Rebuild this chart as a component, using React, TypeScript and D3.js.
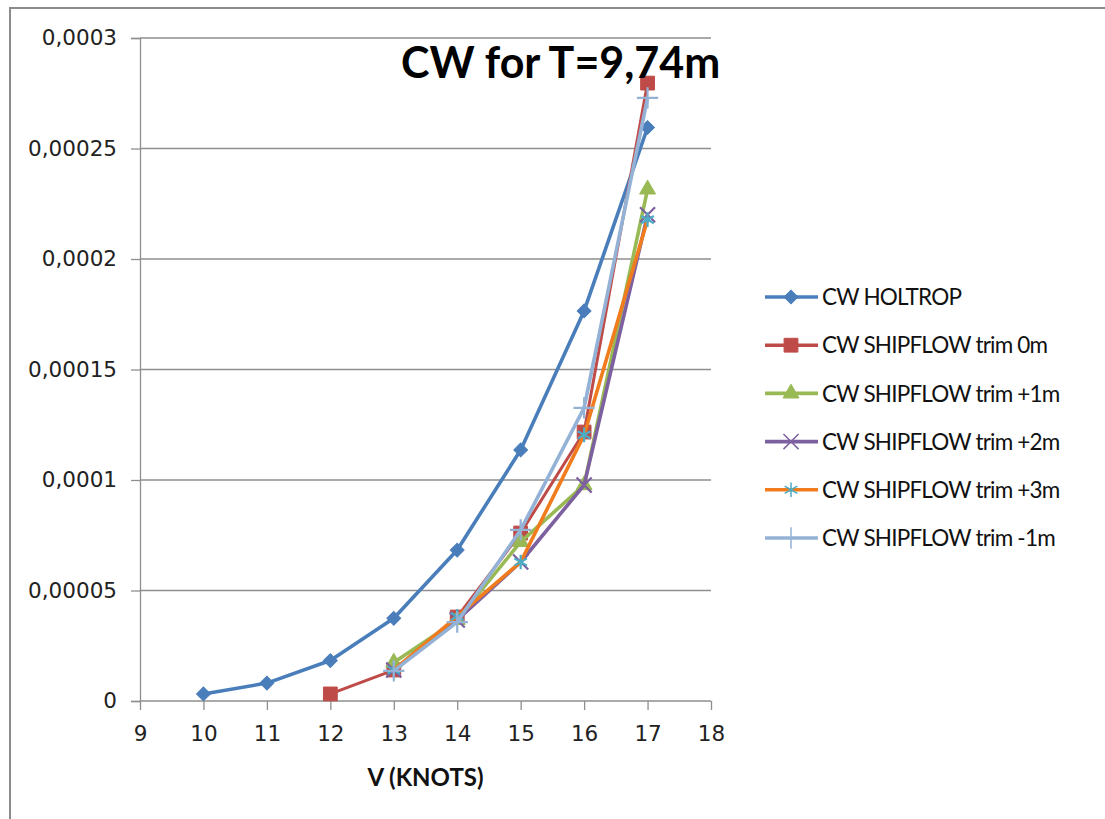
import { useEffect, useRef } from "react";
import * as d3 from "d3";

// speeds (knots) and wave resistance coefficients
const speeds = [10, 11, 12, 13, 14, 15, 16, 17];
const holtrop = [0.0000032, 0.0000081, 0.0000183, 0.0000374, 0.0000683, 0.0001136, 0.0001765, 0.0002595];
const trim0 = [null, null, 0.0000032, 0.000014, 0.000038, 0.000076, 0.0001217, 0.0002796];
const trimP1 = [null, null, null, 0.0000174, 0.0000367, 0.000072, 0.0000977, 0.0002315];
const trimP2 = [null, null, null, 0.000014, 0.0000367, 0.0000629, 0.0000977, 0.00022];
const trimP3 = [null, null, null, 0.000014, 0.0000383, 0.0000629, 0.0001204, 0.0002178];
const trimM1 = [null, null, null, 0.0000136, 0.0000357, 0.0000774, 0.0001326, 0.0002729];

const seriesNames = [
  "CW HOLTROP",
  "CW SHIPFLOW trim 0m",
  "CW SHIPFLOW trim +1m",
  "CW SHIPFLOW trim +2m",
  "CW SHIPFLOW trim +3m",
  "CW SHIPFLOW trim -1m",
];
const xTicks = [9, 10, 11, 12, 13, 14, 15, 16, 17, 18];
const yTicks = [0, 0.00005, 0.0001, 0.00015, 0.0002, 0.00025, 0.0003];
const yTickLabels = ["0", "0,00005", "0,0001", "0,00015", "0,0002", "0,00025", "0,0003"];

type Style = {
  line: string;
  marker: string;
  symbol: d3.SymbolType;
  size: number;
  filled: boolean;
  rotate?: number;
};

const styles: Style[] = [
  { line: "#4A7EBB", marker: "#4A7EBB", symbol: d3.symbolSquare, size: 95, filled: true, rotate: 45 },
  { line: "#BE4B48", marker: "#BE4B48", symbol: d3.symbolSquare, size: 190, filled: true },
  { line: "#98B954", marker: "#98B954", symbol: d3.symbolTriangle, size: 110, filled: true },
  { line: "#7D60A0", marker: "#7D60A0", symbol: d3.symbolTimes, size: 150, filled: false },
  { line: "#F07C1E", marker: "#4BACC6", symbol: d3.symbolAsterisk, size: 150, filled: false },
  { line: "#94B2D6", marker: "#94B2D6", symbol: d3.symbolPlus, size: 150, filled: false },
];

const allSeries = [holtrop, trim0, trimP1, trimP2, trimP3, trimM1];

export default function App() {
  const ref = useRef<SVGSVGElement>(null);

  useEffect(() => {
    if (!ref.current) return;
    const svg = d3.select(ref.current);
    svg.selectAll("*").remove();

    const left = 140, right = 711, top = 38, bottom = 701;
    const x = d3.scaleLinear().domain([9, 18]).range([left, right]);
    const y = d3.scaleLinear().domain([0, 0.0003]).range([bottom, top]);

    // outer chart frame (only top and left edges visible)
    svg.append("rect")
      .attr("x", 10).attr("y", 8).attr("width", 1200).attr("height", 900)
      .attr("fill", "none").attr("stroke", "#8c8c8c").attr("stroke-width", 2);

    // gridlines
    svg.append("g").selectAll("line")
      .data(yTicks.slice(1))
      .enter().append("line")
      .attr("x1", left).attr("x2", right)
      .attr("y1", d => y(d)).attr("y2", d => y(d))
      .attr("stroke", "#8e8e8e").attr("stroke-width", 1.3);

    // axes
    const yAxis = svg.append("g").attr("transform", `translate(${left},0)`)
      .call(d3.axisLeft(y).tickValues(yTicks).tickSize(9)
        .tickFormat((_, i) => yTickLabels[i]).tickPadding(14));
    const xAxis = svg.append("g").attr("transform", `translate(0,${bottom})`)
      .call(d3.axisBottom(x).tickValues(xTicks).tickSize(9).tickFormat(d3.format("d")).tickPadding(16));
    [yAxis, xAxis].forEach(a => {
      a.selectAll("path").attr("stroke", "#8e8e8e").attr("stroke-width", 1.3);
      a.selectAll("line").attr("stroke", "#8e8e8e").attr("stroke-width", 1.3);
      a.selectAll("text")
        .attr("font-family", "DejaVu Sans")
        .attr("font-size", 21.5)
        .attr("fill", "#222");
    });
    xAxis.select(".domain").attr("d", `M${left},0H${right}`);

    // series
    const line = d3.line<[number, number | null]>()
      .defined(d => d[1] !== null)
      .x(d => x(d[0]))
      .y(d => y(d[1] as number));

    allSeries.forEach((vals, i) => {
      const st = styles[i];
      const pts = speeds.map((s, j) => [s, vals[j]] as [number, number | null]);
      svg.append("path")
        .attr("d", line(pts))
        .attr("fill", "none")
        .attr("stroke", st.line)
        .attr("stroke-width", i === 1 ? 3 : 3.6)
        .attr("stroke-linejoin", "round");
      const sym = d3.symbol().type(st.symbol).size(st.size);
      svg.append("g").selectAll("path")
        .data(pts.filter(d => d[1] !== null))
        .enter().append("path")
        .attr("transform", d => `translate(${x(d[0])},${y(d[1] as number)}) rotate(${st.rotate || 0})`)
        .attr("d", sym())
        .attr("fill", st.filled ? st.marker : "none")
        .attr("stroke", st.marker)
        .attr("stroke-width", st.filled ? 1 : 2.2);
    });

    // legend
    const lg = svg.append("g");
    seriesNames.forEach((name, i) => {
      const st = styles[i];
      const ly = 297 + i * 48.2;
      lg.append("line")
        .attr("x1", 765).attr("x2", 818).attr("y1", ly).attr("y2", ly)
        .attr("stroke", st.line).attr("stroke-width", 3.6);
      lg.append("path")
        .attr("transform", `translate(791,${ly}) rotate(${st.rotate || 0})`)
        .attr("d", d3.symbol().type(st.symbol).size(st.size)())
        .attr("fill", st.filled ? st.marker : "none")
        .attr("stroke", st.marker)
        .attr("stroke-width", st.filled ? 1 : 1.5);
      lg.append("text")
        .attr("x", 822).attr("y", ly)
        .attr("dy", "0.36em")
        .attr("font-family", "Lato")
        .attr("font-size", 22.5)
        .attr("letter-spacing", -0.8)
        .attr("fill", "#111")
        .text(name);
    });

    // title
    svg.append("text")
      .attr("x", 401).attr("y", 78)
      .attr("font-family", "Lato")
      .attr("font-weight", "bold")
      .attr("font-size", 43)
      .attr("fill", "#000")
      .text("CW for T=9,74m");

    // x axis title
    svg.append("text")
      .attr("x", (left + right) / 2).attr("y", 786)
      .attr("text-anchor", "middle")
      .attr("font-family", "Lato")
      .attr("font-weight", "bold")
      .attr("font-size", 24)
      .attr("fill", "#111")
      .text("V (KNOTS)");
  }, []);

  return (
    <div style={{ position: "absolute", left: 0, top: 0 }}>
      <svg ref={ref} width={1105} height={819} style={{ display: "block", background: "#fff" }} />
    </div>
  );
}
